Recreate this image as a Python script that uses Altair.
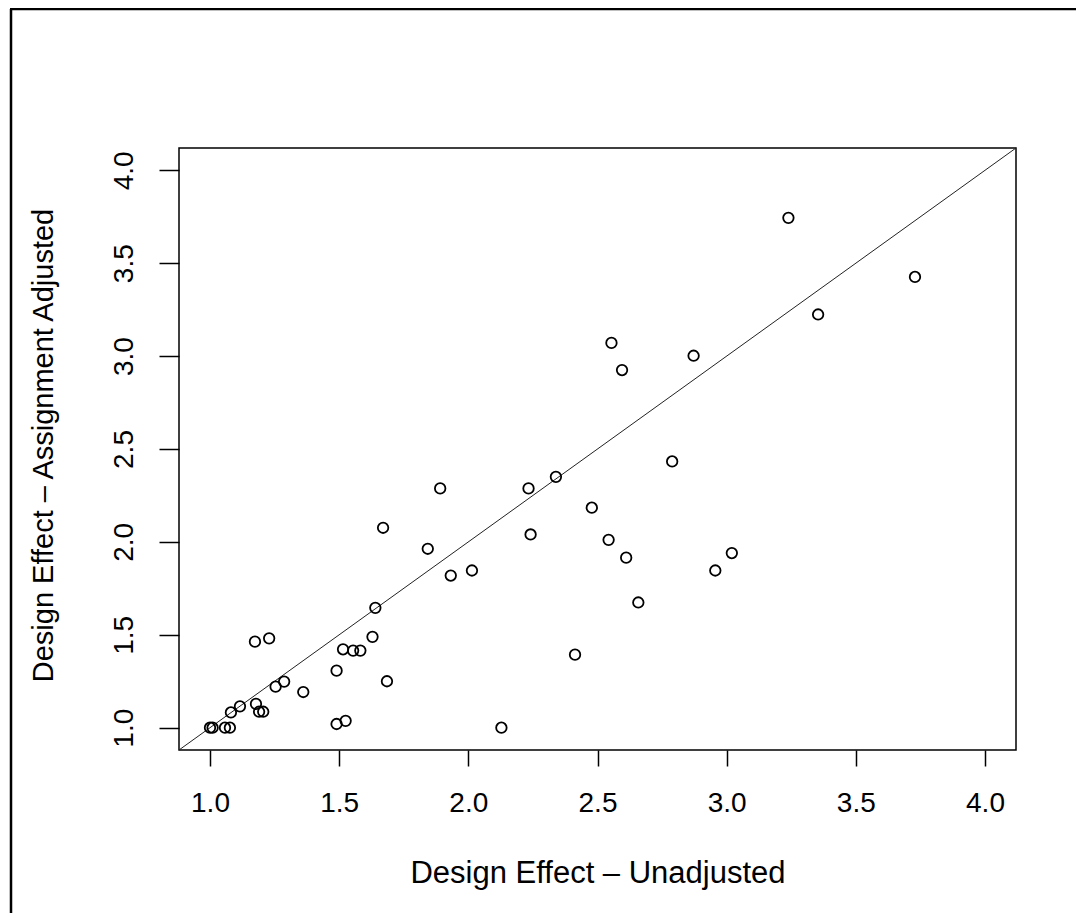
import altair as alt
import pandas as pd

# Design effect values
unadjusted = [1.00, 1.01, 1.058, 1.077, 1.081, 1.116, 1.178, 1.190, 1.206, 1.174,
              1.229, 1.254, 1.287, 1.361, 1.490, 1.490, 1.525, 1.515, 1.554, 1.582,
              1.629, 1.640, 1.685, 1.670, 1.843, 1.891, 1.932, 2.014, 2.128, 2.233,
              2.241, 2.339, 2.413, 2.478, 2.543, 2.554, 2.595, 2.611, 2.658, 2.789,
              2.872, 2.956, 3.020, 3.239, 3.354, 3.729]
adjusted = [1.00, 1.00, 1.00, 1.00, 1.082, 1.115, 1.128, 1.086, 1.086, 1.463,
            1.481, 1.221, 1.248, 1.192, 1.307, 1.020, 1.037, 1.422, 1.415, 1.415,
            1.489, 1.645, 1.250, 2.076, 1.963, 2.288, 1.819, 1.846, 1.000, 2.288,
            2.040, 2.350, 1.393, 2.184, 2.011, 3.071, 2.925, 1.915, 1.674, 2.433,
            3.002, 1.846, 1.940, 3.744, 3.224, 3.426]
tick_values = [1.0, 1.5, 2.0, 2.5, 3.0, 3.5, 4.0]
axis_limits = [0.88, 4.12]

FONT = "Liberation Sans"
W, H = 837, 602

pts = pd.DataFrame({"u": unadjusted, "a": adjusted})
diag = pd.DataFrame({"u": axis_limits, "a": axis_limits})

xscale = alt.Scale(domain=axis_limits, nice=False, zero=False)
yscale = alt.Scale(domain=axis_limits, nice=False, zero=False)

xaxis = alt.Axis(
    values=tick_values, format=".1f", grid=False, domain=False,
    tickSize=16, tickWidth=1.5, tickColor="black",
    labelFont=FONT, labelFontSize=28, labelColor="black",
    labelBaseline="alphabetic", labelPadding=45, labelFlush=False,
    title="Design Effect – Unadjusted", titleFont=FONT, titleFontSize=31,
    titleFontWeight="normal", titleColor="black",
    titleX=W / 2, titleY=132, titleAlign="center", titleBaseline="alphabetic",
)
yaxis = alt.Axis(
    values=tick_values, format=".1f", grid=False, domain=False,
    tickSize=20, tickWidth=1.5, tickColor="black",
    labelFont=FONT, labelFontSize=28, labelColor="black", labelAngle=270,
    labelAlign="center", labelBaseline="alphabetic", labelPadding=27,
    labelFlush=False,
    title="Design Effect – Assignment Adjusted", titleFont=FONT, titleFontSize=29,
    titleFontWeight="normal", titleColor="black", titleAngle=270,
    titleX=-127, titleY=297, titleAlign="center", titleBaseline="alphabetic",
)

points = alt.Chart(pts).mark_point(
    shape="circle", filled=False, color="black", size=110, strokeWidth=1.8, opacity=1
).encode(
    x=alt.X("u:Q", scale=xscale, axis=xaxis),
    y=alt.Y("a:Q", scale=yscale, axis=yaxis),
)

line = alt.Chart(diag).mark_line(color="#222222", strokeWidth=1).encode(
    x=alt.X("u:Q", scale=xscale),
    y=alt.Y("a:Q", scale=yscale),
)

border_left = alt.Chart(pd.DataFrame({"k": [0]})).mark_rule(
    color="black", strokeWidth=2.5
).encode(x=alt.value(-168), y=alt.value(-139), y2=alt.value(800))
border_top = alt.Chart(pd.DataFrame({"k": [0]})).mark_rule(
    color="black", strokeWidth=2.5
).encode(x=alt.value(-169), x2=alt.value(1100), y=alt.value(-139))

chart = alt.layer(line, points, border_left, border_top).properties(
    width=W, height=H,
    autosize=alt.AutoSizeParams(type="none"),
    padding={"left": 171, "top": 140, "right": 60, "bottom": 163},
    background="white",
).configure_view(stroke="black", strokeWidth=1.5)

chart.save("out.html", embed_options={"renderer": "svg", "actions": False})
